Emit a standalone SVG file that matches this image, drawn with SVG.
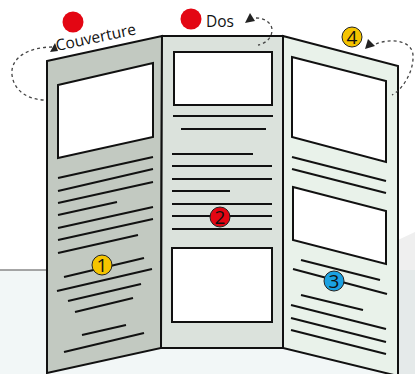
<svg xmlns="http://www.w3.org/2000/svg" width="415" height="374" viewBox="0 0 415 374">
<style>
.pan{stroke:#111;stroke-width:2;stroke-linejoin:miter}
.img{fill:#fff;stroke:#111;stroke-width:2}
.ln{stroke:#111;stroke-width:2;fill:none;stroke-linecap:butt}
.dash{fill:none;stroke:#444;stroke-width:1.3;stroke-dasharray:3 3}
.head{fill:#222}
.num{font-family:"Open Sans","Liberation Sans",sans-serif;font-size:19px;fill:#111;text-anchor:middle}
.lbl{font-family:"Open Sans","Liberation Sans",sans-serif;font-size:15.5px;fill:#111}
.bad{stroke:#222;stroke-width:1}
</style>
<rect width="415" height="374" fill="#fff"/>
<g id="background">
<rect x="0" y="270" width="415" height="104" fill="#f2f7f7"/>
<line x1="0" y1="270" x2="398" y2="270" stroke="#888" stroke-width="1.5"/>
<polygon points="398,240 415,232 415,270 398,270" fill="#efefef"/>
<rect x="398" y="270" width="17" height="104" fill="#e5eaea"/>
</g>
<g id="panel-left">
<polygon class="pan" points="47,61 162,36 161,348 47,373" fill="#c2c9c1"/>
<polygon class="img" points="58,85 153,63 153,137 58,158"/>
<g class="ln">
<line x1="58" y1="178" x2="153" y2="157"/>
<line x1="58" y1="191" x2="153" y2="169"/>
<line x1="58" y1="203" x2="153" y2="182"/>
<line x1="58" y1="215" x2="117" y2="202"/>
<line x1="58" y1="228" x2="153" y2="207"/>
<line x1="58" y1="240" x2="153" y2="219"/>
<line x1="58" y1="253" x2="138" y2="235"/>
<line x1="64" y1="277" x2="144" y2="258"/>
<line x1="57" y1="291" x2="152" y2="269"/>
<line x1="68" y1="301" x2="141" y2="284"/>
<line x1="75" y1="312" x2="133" y2="298"/>
<line x1="82" y1="335" x2="126" y2="325"/>
<line x1="64" y1="352" x2="144" y2="333"/>
</g>
</g>
<g id="panel-middle">
<polygon class="pan" points="162,36 283,36 283,348 161,348" fill="#dbe2dc"/>
<rect class="img" x="174" y="52" width="98" height="53"/>
<g class="ln">
<line x1="173" y1="116" x2="273" y2="116"/>
<line x1="181" y1="129" x2="266" y2="129"/>
<line x1="172" y1="154" x2="253" y2="154"/>
<line x1="172" y1="166" x2="272" y2="166"/>
<line x1="172" y1="179" x2="272" y2="179"/>
<line x1="172" y1="191" x2="230" y2="191"/>
<line x1="172" y1="204" x2="272" y2="204"/>
<line x1="172" y1="216" x2="272" y2="216"/>
<line x1="172" y1="229" x2="272" y2="229"/>
</g>
<rect class="img" x="172" y="248" width="100" height="74"/>
</g>
<g id="panel-right">
<polygon class="pan" points="283,36 398,66 398,376 283,348" fill="#e9f2ea"/>
<polygon class="img" points="292,57 386,81 386,162 292,137"/>
<g class="ln">
<line x1="292" y1="157" x2="386" y2="181"/>
<line x1="292" y1="169" x2="386" y2="193"/>
</g>
<polygon class="img" points="293,187 386,211 386,264 293,240"/>
<g class="ln">
<line x1="301" y1="260" x2="380" y2="280"/>
<line x1="293" y1="269" x2="387" y2="294"/>
<line x1="301" y1="295" x2="363" y2="310"/>
<line x1="291" y1="305" x2="386" y2="329"/>
<line x1="291" y1="318" x2="386" y2="342"/>
<line x1="291" y1="330" x2="386" y2="354"/>
</g>
</g>
<g id="connectors">
<path class="dash" d="M52,47 C30,47 10,57 12,75 C14,92 30,100 45,100"/>
<polygon class="head" points="50,52 58,51 55,43"/>
<path class="dash" d="M256,18 C266,18 272,24 272,30 C272,38 265,44 258,45"/>
<polygon class="head" points="245,23 255,21 250,13"/>
<path class="dash" d="M376,44 C390,38 412,40 413,55 C414,72 402,90 392,95"/>
<polygon class="head" points="365,49 375,46 368,39"/>
</g>
<g id="label-couverture">
<circle cx="73" cy="22" r="10.5" fill="#e30613"/>
<text class="lbl" x="57" y="51" transform="rotate(-12 57 51)">Couverture</text>
</g>
<g id="label-dos">
<circle cx="191" cy="19" r="10.5" fill="#e30613"/>
<text class="lbl" x="206" y="27">Dos</text>
</g>
<g id="badge-1">
<circle class="bad" cx="102" cy="265" r="10" fill="#f5c400"/>
<text class="num" x="102" y="272">1</text>
</g>
<g id="badge-2">
<circle class="bad" cx="220" cy="217" r="10" fill="#e30613"/>
<text class="num" x="220" y="224">2</text>
</g>
<g id="badge-3">
<circle class="bad" cx="334" cy="281" r="10" fill="#1ba1e2"/>
<text class="num" x="334" y="288">3</text>
</g>
<g id="badge-4">
<circle class="bad" cx="352" cy="37" r="10" fill="#f5c400"/>
<text class="num" x="352" y="44">4</text>
</g>
</svg>
